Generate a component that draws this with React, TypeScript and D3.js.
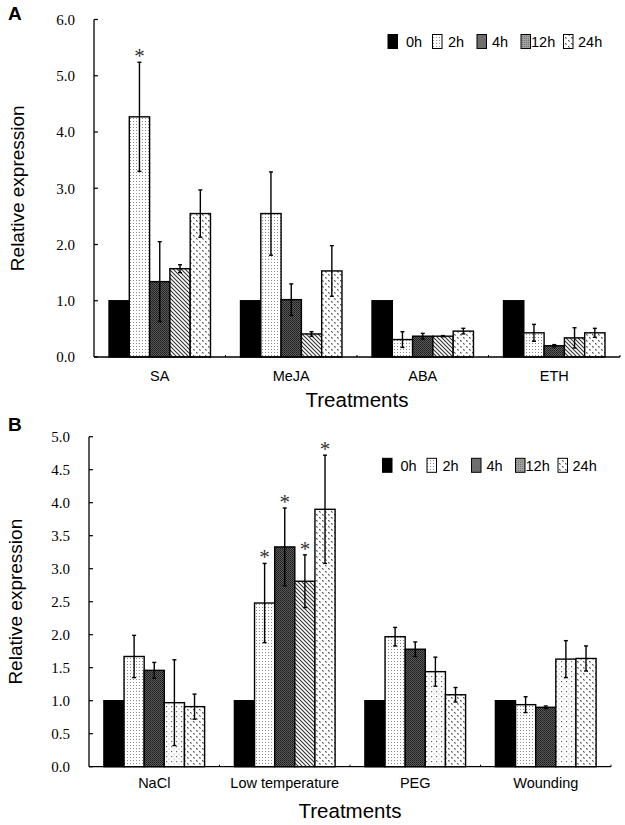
import React from "react";
import * as d3 from "d3";

const seriesNames = ["0h", "2h", "4h", "12h", "24h"];

const catsA = ["SA", "MeJA", "ABA", "ETH"];
const valsA = [
  [1.0, 4.27, 1.34, 1.57, 2.55],
  [1.0, 2.55, 1.02, 0.41, 1.53],
  [1.0, 0.31, 0.37, 0.37, 0.46],
  [1.0, 0.43, 0.2, 0.34, 0.43],
];
const errA = [
  [0, 0.97, 0.71, 0.07, 0.42],
  [0, 0.74, 0.28, 0.04, 0.45],
  [0, 0.14, 0.05, 0.01, 0.05],
  [0, 0.15, 0.02, 0.18, 0.08],
];
const sigA = [
  [false, true, false, false, false],
  [false, false, false, false, false],
  [false, false, false, false, false],
  [false, false, false, false, false],
];
const ticksA = [0, 1, 2, 3, 4, 5, 6];

const catsB = ["NaCl", "Low temperature", "PEG", "Wounding"];
const valsB = [
  [1.0, 1.67, 1.46, 0.97, 0.91],
  [1.0, 2.48, 3.33, 2.81, 3.9],
  [1.0, 1.97, 1.78, 1.44, 1.09],
  [1.0, 0.94, 0.9, 1.63, 1.64],
];
const errB = [
  [0, 0.32, 0.12, 0.65, 0.19],
  [0, 0.6, 0.59, 0.4, 0.82],
  [0, 0.14, 0.11, 0.22, 0.11],
  [0, 0.12, 0.02, 0.28, 0.19],
];
const sigB = [
  [false, false, false, false, false],
  [false, true, true, true, true],
  [false, false, false, false, false],
  [false, false, false, false, false],
];
const ticksB = [0, 0.5, 1, 1.5, 2, 2.5, 3, 3.5, 4, 4.5, 5];

const SERIF = "'Liberation Serif', 'Times New Roman', serif";
const SANS = "'Liberation Sans', Arial, sans-serif";

const fillA = ["#000", "url(#p2h)", "url(#p4h)", "url(#p12h)", "url(#p24h)"];
const fillB12 = ["url(#pdots)", "url(#p12h)", "url(#pdots)", "url(#pdots)"];
const legendFill = ["#000", "url(#p2h)", "#6e6e6e", "url(#pleg12)", "url(#p24h)"];
const legendRectOff = [0, 44.5, 89, 133, 175.5];
const legendTextOff = [18, 60, 104, 143, 190];

type PanelProps = {
  letter: string;
  cats: string[];
  vals: number[][];
  errs: number[][];
  sig: boolean[][];
  ticks: number[];
  yMax: number;
  x0: number;
  x1: number;
  yTop: number;
  yBot: number;
  letterY: number;
  catLabelY: number;
  titleY: number;
  yTitleX: number;
  legendX: number;
  legendY: number;
  tickFont: number;
  fills: (ci: number, si: number) => string;
};

function Panel(p: PanelProps) {
  const y = d3.scaleLinear().domain([0, p.yMax]).range([p.yBot, p.yTop]);
  const xc = d3.scaleBand<string>().domain(p.cats).range([p.x0, p.x1]).padding(0);
  const xs = d3
    .scaleBand<string>()
    .domain(seriesNames)
    .range([0, xc.bandwidth()])
    .paddingInner(0)
    .paddingOuter(0.74);
  const bw = xs.bandwidth();
  const midY = (p.yTop + p.yBot) / 2;
  return (
    <g>
      <text x={8} y={p.letterY} fontFamily={SANS} fontWeight="bold" fontSize={19}>
        {p.letter}
      </text>
      {p.cats.map((c, ci) =>
        seriesNames.map((s, si) => {
          const v = p.vals[ci][si];
          const bx = (xc(c) as number) + (xs(s) as number);
          return (
            <rect
              key={c + s}
              x={bx}
              y={y(v)}
              width={bw}
              height={p.yBot - y(v)}
              fill={p.fills(ci, si)}
              stroke="#000"
              strokeWidth={1.4}
            />
          );
        })
      )}
      {p.cats.map((c, ci) =>
        seriesNames.map((s, si) => {
          const v = p.vals[ci][si];
          const e = p.errs[ci][si];
          const cx = (xc(c) as number) + (xs(s) as number) + bw / 2;
          if (e <= 0) return null;
          const yt = y(v + e);
          const yb = y(v - e);
          return (
            <g key={"e" + c + s} stroke="#000" strokeWidth={1.4}>
              <line x1={cx} x2={cx} y1={yt} y2={yb} />
              <line x1={cx - 2} x2={cx + 2} y1={yt} y2={yt} />
              <line x1={cx - 2} x2={cx + 2} y1={yb} y2={yb} />
              {p.sig[ci][si] && (
                <text
                  x={cx}
                  y={yt + 1}
                  textAnchor="middle"
                  fontFamily={SERIF}
                  fontSize={21}
                  stroke="none"
                  fill="#333"
                >
                  *
                </text>
              )}
            </g>
          );
        })
      )}
      <line x1={p.x0} x2={p.x0} y1={p.yTop} y2={p.yBot} stroke="#000" strokeWidth={1.3} />
      {p.ticks.map((t) => (
        <g key={"t" + t}>
          <line x1={p.x0} x2={p.x0 + 4} y1={y(t)} y2={y(t)} stroke="#000" strokeWidth={1.2} />
          <text
            x={p.x0 - 19}
            y={y(t)}
            dy="0.35em"
            textAnchor="end"
            fontFamily={SERIF}
            fontSize={p.tickFont}
          >
            {d3.format(".1f")(t)}
          </text>
        </g>
      ))}
      <line x1={p.x0} x2={p.x1} y1={p.yBot} y2={p.yBot} stroke="#000" strokeWidth={1.3} />
      {p.cats.map((c, ci) => (
        <g key={"c" + c}>
          {ci > 0 && (
            <line
              x1={xc(c) as number}
              x2={xc(c) as number}
              y1={p.yBot}
              y2={p.yBot - 2}
              stroke="#000"
              strokeWidth={1}
            />
          )}
          <text
            x={(xc(c) as number) + xc.bandwidth() / 2}
            y={p.catLabelY}
            textAnchor="middle"
            fontFamily={SANS}
            fontSize={14.5}
          >
            {c}
          </text>
        </g>
      ))}
      <line x1={p.x1} x2={p.x1} y1={p.yBot} y2={p.yBot - 2} stroke="#000" strokeWidth={1} />
      <text
        x={(p.x0 + p.x1) / 2}
        y={p.titleY}
        textAnchor="middle"
        fontFamily={SANS}
        fontSize={20.5}
      >
        Treatments
      </text>
      <text
        transform={`translate(${p.yTitleX},${midY}) rotate(-90)`}
        textAnchor="middle"
        fontFamily={SANS}
        fontSize={19}
      >
        Relative expression
      </text>
      {seriesNames.map((s, si) => (
        <g key={"l" + s}>
          <rect
            x={p.legendX + legendRectOff[si]}
            y={p.legendY - 7}
            width={9.5}
            height={14}
            fill={legendFill[si]}
            stroke="#000"
            strokeWidth={1}
          />
          <text
            x={p.legendX + legendTextOff[si]}
            y={p.legendY}
            dy="0.36em"
            fontFamily={SANS}
            fontSize={14.5}
          >
            {s}
          </text>
        </g>
      ))}
    </g>
  );
}

export default function App() {
  return (
    <svg
      width={625}
      height={825}
      style={{ position: "absolute", left: 0, top: 0, background: "#fff" }}
    >
      <defs>
        <pattern id="p2h" width={3} height={3} patternUnits="userSpaceOnUse">
          <rect width={3} height={3} fill="#fff" />
          <rect x={1} y={1} width={1} height={1} fill="#8a8a8a" />
        </pattern>
        <pattern id="p4h" width={2} height={2} patternUnits="userSpaceOnUse">
          <rect width={2} height={2} fill="#5a5a5a" />
          <rect x={0} y={0} width={1} height={1} fill="#1a1a1a" />
          <rect x={1} y={1} width={1} height={1} fill="#2a2a2a" />
        </pattern>
        <pattern id="p12h" width={4} height={4} patternUnits="userSpaceOnUse">
          <rect width={4} height={4} fill="#fff" />
          <path d="M-1,-1 L5,5 M-1,3 L1,5 M3,-1 L5,1" stroke="#333" strokeWidth={1.1} />
        </pattern>
        <pattern id="p24h" width={6} height={6} patternUnits="userSpaceOnUse">
          <rect width={6} height={6} fill="#fff" />
          <rect x={1} y={1} width={1.3} height={1.3} fill="#555" />
          <rect x={4} y={4} width={1.3} height={1.3} fill="#555" />
          <rect x={2} y={2} width={1} height={1} fill="#999" />
          <rect x={5} y={5} width={1} height={1} fill="#999" />
        </pattern>
        <pattern id="pdots" width={5} height={5} patternUnits="userSpaceOnUse">
          <rect width={5} height={5} fill="#fff" />
          <rect x={1} y={1} width={1.2} height={1.2} fill="#666" />
          <rect x={3.5} y={3.5} width={1} height={1} fill="#aaa" />
        </pattern>
        <pattern id="pleg12" width={2} height={2} patternUnits="userSpaceOnUse">
          <rect width={2} height={2} fill="#a0a0a0" />
          <rect x={0} y={0} width={1} height={1} fill="#777" />
        </pattern>
      </defs>
      <Panel
        letter="A"
        cats={catsA}
        vals={valsA}
        errs={errA}
        sig={sigA}
        ticks={ticksA}
        yMax={6}
        x0={94}
        x1={620}
        yTop={19.5}
        yBot={357}
        letterY={20}
        catLabelY={381}
        titleY={407}
        yTitleX={24}
        legendX={388}
        legendY={41.5}
        tickFont={15}
        fills={(ci, si) => fillA[si]}
      />
      <Panel
        letter="B"
        cats={catsB}
        vals={valsB}
        errs={errB}
        sig={sigB}
        ticks={ticksB}
        yMax={5}
        x0={89}
        x1={611}
        yTop={436.7}
        yBot={766.7}
        letterY={431}
        catLabelY={788}
        titleY={818}
        yTitleX={22}
        legendX={382.5}
        legendY={465.3}
        tickFont={15}
        fills={(ci, si) => (si === 3 ? fillB12[ci] : fillA[si])}
      />
    </svg>
  );
}
